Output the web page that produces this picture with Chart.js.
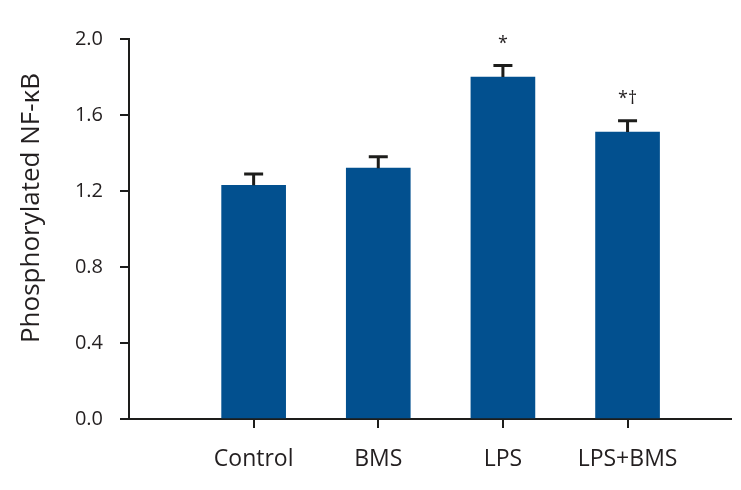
<!DOCTYPE html>
<html>
<head>
<meta charset="utf-8">
<script src="https://cdn.jsdelivr.net/npm/chart.js@4.4.0/dist/chart.umd.min.js"></script>
<style>
  html, body { margin: 0; padding: 0; background: #fff; }
</style>
</head>
<body>
<canvas id="grafico" width="741" height="490"></canvas>
<script>
// dados
const grupos = ["Control", "BMS", "LPS", "LPS+BMS"];
const posicoes = [1, 2, 3, 4];
const medias = [1.23, 1.32, 1.80, 1.51];
const erros = [0.06, 0.06, 0.06, 0.06];
const marcas = ["", "", "*", "*†"];
const ticksY = [0, 0.4, 0.8, 1.2, 1.6, 2.0];
const tituloY = "Phosphorylated NF-κB";

const corTexto = "#231f20";
const fonte = "'Open Sans', 'DejaVu Sans', sans-serif";

// barras de erro + marcas de significância
const barrasErro = {
  id: "barrasErro",
  afterDatasetsDraw(chart) {
    const ctx = chart.ctx;
    const y = chart.scales.y;
    const meta = chart.getDatasetMeta(0);
    ctx.save();
    ctx.strokeStyle = "#1d1d1b";
    ctx.lineWidth = 3;
    ctx.fillStyle = corTexto;
    ctx.font = "18px " + fonte;
    ctx.textAlign = "center";
    ctx.textBaseline = "middle";
    meta.data.forEach((bar, i) => {
      const topo = y.getPixelForValue(medias[i] + erros[i]);
      ctx.beginPath();
      ctx.moveTo(bar.x, bar.y);
      ctx.lineTo(bar.x, topo);
      ctx.moveTo(bar.x - 9.5, topo);
      ctx.lineTo(bar.x + 9.5, topo);
      ctx.stroke();
      if (marcas[i]) ctx.fillText(marcas[i], bar.x, topo - 22);
    });
    ctx.restore();
  },
};

// título do eixo Y
const tituloEixo = {
  id: "tituloEixo",
  afterDraw(chart) {
    const ctx = chart.ctx;
    ctx.save();
    ctx.translate(32, 208);
    ctx.rotate(-Math.PI / 2);
    ctx.fillStyle = corTexto;
    ctx.font = "26px " + fonte;
    ctx.textAlign = "center";
    ctx.textBaseline = "middle";
    ctx.fillText(tituloY, 0, 0);
    ctx.restore();
  },
};

new Chart(document.getElementById("grafico"), {
  type: "bar",
  data: {
    datasets: [
      {
        data: posicoes.map((x, i) => ({ x: x, y: medias[i] })),
        backgroundColor: "#02508f",
        barThickness: 64,
      },
    ],
  },
  options: {
    responsive: false,
    animation: false,
    devicePixelRatio: 1,
    layout: { padding: { left: 0, right: 10, top: 39, bottom: 0 } },
    plugins: { legend: { display: false }, tooltip: { enabled: false } },
    scales: {
      x: {
        type: "linear",
        offset: false,
        min: 0,
        max: 4.83,
        afterBuildTicks: (axis) => {
          axis.ticks = posicoes.map((v) => ({ value: v }));
        },
        afterFit: (axis) => {
          axis.height = 71;
        },
        grid: {
          display: true,
          offset: false,
          drawOnChartArea: false,
          drawTicks: true,
          tickLength: 9,
          color: "#1d1d1b",
          lineWidth: 2,
        },
        border: { display: true, color: "#1d1d1b", width: 2 },
        ticks: {
          padding: 18,
          color: corTexto,
          font: { family: fonte, size: 23 },
          maxRotation: 0,
          autoSkip: false,
          callback: (v) => grupos[posicoes.indexOf(v)],
        },
      },
      y: {
        min: 0,
        max: 2,
        afterBuildTicks: (axis) => {
          axis.ticks = ticksY.map((v) => ({ value: v }));
        },
        afterFit: (axis) => {
          axis.width = 129;
        },
        grid: {
          display: true,
          drawOnChartArea: false,
          drawTicks: true,
          tickLength: 9,
          color: "#1d1d1b",
          lineWidth: 2,
        },
        border: { display: true, color: "#1d1d1b", width: 2 },
        ticks: {
          padding: 17,
          color: corTexto,
          font: { family: fonte, size: 20 },
          callback: (v) => v.toFixed(1),
        },
      },
    },
  },
  plugins: [barrasErro, tituloEixo],
});
</script>
</body>
</html>
